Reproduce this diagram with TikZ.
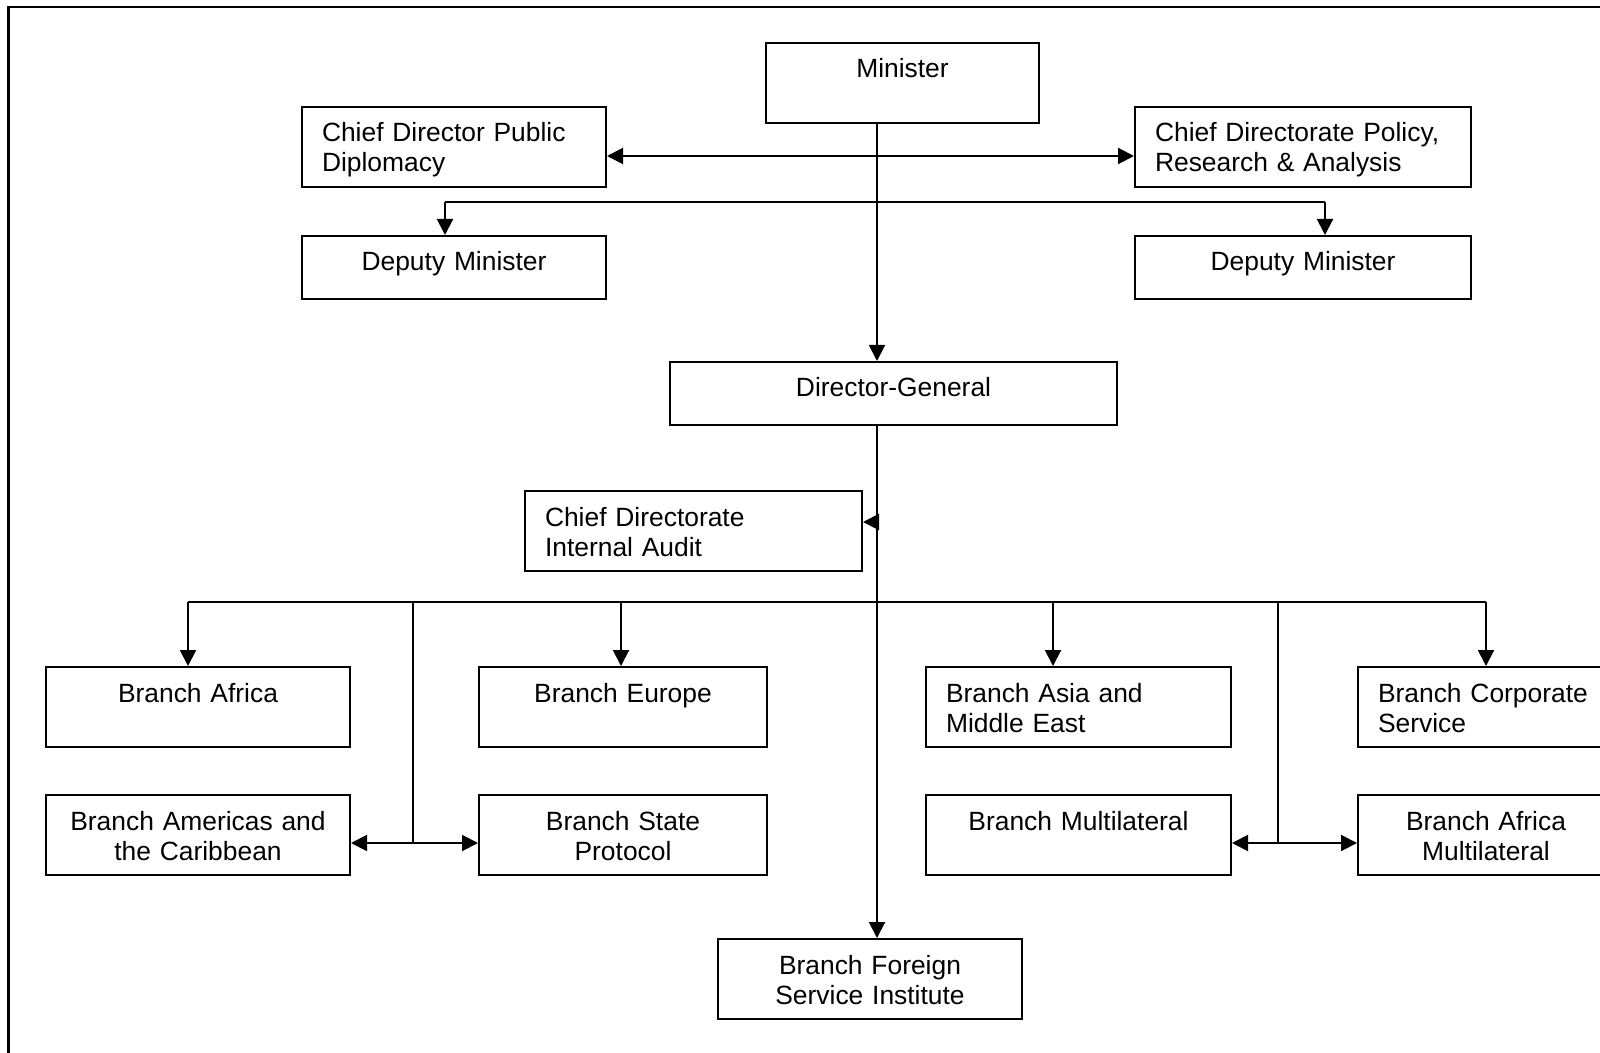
\documentclass[tikz,border=0pt]{standalone}
\usepackage{fontspec}
\setmainfont{Liberation Sans}
\usetikzlibrary{arrows.meta}

\begin{document}
\begin{tikzpicture}[x=0.5pt, y=-0.5pt,
    box/.style={draw, line width=1pt, anchor=north west, inner xsep=10pt, inner ysep=0pt,
        font=\fontsize{13.2pt}{15pt}\selectfont, text height=17.5pt, text depth=22.5pt, align=center},
    lbox/.style={box, align=left},
    low/.style={text depth=14pt},
    ln/.style={line width=1pt},
    arr/.style={ln, -{Triangle[length=8pt,width=8pt]}},
    arrs/.style={ln, {Triangle[length=8pt,width=8pt]}-{Triangle[length=8pt,width=8pt]}}]
        \useasboundingbox (0,0) rectangle (1600,1053);
        \clip (0,0) rectangle (1600,1053);
        \draw[line width=1.4pt] (8.5,1080) -- (8.5,7) -- (1620,7);

        % top level
        \node[box, text width=116.5pt] (mn) at (765,42) {Minister};
        \node[lbox, text width=132pt] (pd) at (301,106) {Chief Director Public\\Diplomacy};
        \node[lbox, text width=148pt] (pol) at (1134,106) {Chief Directorate Policy,\\Research \& Analysis};
        \node[box, low, text width=132pt] (dmL) at (301,235) {Deputy Minister};
        \node[box, low, text width=148pt] (dmR) at (1134,235) {Deputy Minister};
        \node[box, low, text width=203.5pt] (dg) at (669,361) {Director-General};
        \node[lbox, text width=148.5pt] (aud) at (524,490) {Chief Directorate\\Internal Audit};

        % branches
        \node[box, text width=132pt] (baf) at (45,666) {Branch Africa};
        \node[box, text width=124pt] (beu) at (478,666) {Branch Europe};
        \node[lbox, text width=132.5pt] (bas) at (925,666) {Branch Asia and\\Middle East};
        \node[lbox, text width=120pt] (bcs) at (1357,666) {Branch Corporate\\Service};
        \node[box, text width=132pt] (bam) at (45,794) {Branch Americas and\\the Caribbean};
        \node[box, text width=124pt] (bsp) at (478,794) {Branch State\\Protocol};
        \node[box, text width=132.5pt] (bml) at (925,794) {Branch Multilateral};
        \node[box, text width=108pt] (bafm) at (1357,794) {Branch Africa\\Multilateral};
        \node[box, text width=132pt] (fsi) at (717,938) {Branch Foreign\\Service Institute};

        \coordinate (tk) at (877,156);
        \coordinate (dl) at (445,202);
        \coordinate (dr) at (1325,202);
        \coordinate (au) at (877,522);
        \coordinate (b1) at (188,602);
        \coordinate (b2) at (621,602);
        \coordinate (b3) at (1053,602);
        \coordinate (b4) at (1486,602);
        \coordinate (l1) at (413,602);
        \coordinate (l2) at (413,843);
        \coordinate (r1) at (1278,602);
        \coordinate (r2) at (1278,843);

        \draw[arr] (mn.south -| tk) -- (dg.north -| tk);
        \draw[arrs] (pd.east |- tk) -- (pol.west |- tk);
        \draw[ln] (dl) -- (dr);
        \draw[arr] (dl) -- (dl |- dmL.north);
        \draw[arr] (dr) -- (dr |- dmR.north);
        \draw[arr] (dg.south -| tk) -- (fsi.north -| tk);
        \draw[arr] (au) -- (aud.east |- au);

        \draw[ln] (b1) -- (b4);
        \draw[arr] (b1) -- (b1 |- baf.north);
        \draw[arr] (b2) -- (b2 |- beu.north);
        \draw[arr] (b3) -- (b3 |- bas.north);
        \draw[arr] (b4) -- (b4 |- bcs.north);
        \draw[ln] (l1) -- (l2);
        \draw[arrs] (bam.east |- l2) -- (bsp.west |- l2);
        \draw[ln] (r1) -- (r2);
        \draw[arrs] (bml.east |- r2) -- (bafm.west |- r2);
\end{tikzpicture}
\end{document}
